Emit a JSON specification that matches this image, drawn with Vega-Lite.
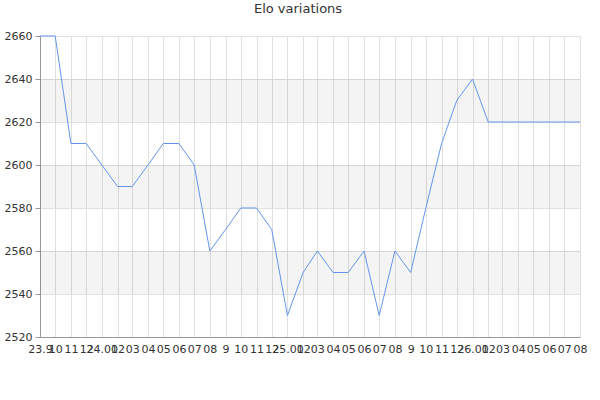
{
  "$schema": "https://vega.github.io/schema/vega-lite/v6.json",
  "width": 540,
  "height": 301,
  "autosize": {"type": "none"},
  "padding": {"left": 40, "top": 36, "right": 20, "bottom": 63},
  "background": "white",
  "title": {
    "text": "Elo variations",
    "font": "DejaVu Sans",
    "fontSize": 13,
    "fontWeight": "normal",
    "color": "#333",
    "offset": 14,
    "dx": -12
  },
  "datasets": {
    "elo": [
      {"month": "2023-09-01", "elo": 2660},
      {"month": "2023-10-01", "elo": 2660},
      {"month": "2023-11-01", "elo": 2610},
      {"month": "2023-12-01", "elo": 2610},
      {"month": "2024-01-01", "elo": 2600},
      {"month": "2024-02-01", "elo": 2590},
      {"month": "2024-03-01", "elo": 2590},
      {"month": "2024-04-01", "elo": 2600},
      {"month": "2024-05-01", "elo": 2610},
      {"month": "2024-06-01", "elo": 2610},
      {"month": "2024-07-01", "elo": 2600},
      {"month": "2024-08-01", "elo": 2560},
      {"month": "2024-09-01", "elo": 2570},
      {"month": "2024-10-01", "elo": 2580},
      {"month": "2024-11-01", "elo": 2580},
      {"month": "2024-12-01", "elo": 2570},
      {"month": "2025-01-01", "elo": 2530},
      {"month": "2025-02-01", "elo": 2550},
      {"month": "2025-03-01", "elo": 2560},
      {"month": "2025-04-01", "elo": 2550},
      {"month": "2025-05-01", "elo": 2550},
      {"month": "2025-06-01", "elo": 2560},
      {"month": "2025-07-01", "elo": 2530},
      {"month": "2025-08-01", "elo": 2560},
      {"month": "2025-09-01", "elo": 2550},
      {"month": "2025-10-01", "elo": 2580},
      {"month": "2025-11-01", "elo": 2610},
      {"month": "2025-12-01", "elo": 2630},
      {"month": "2026-01-01", "elo": 2640},
      {"month": "2026-02-01", "elo": 2620},
      {"month": "2026-03-01", "elo": 2620},
      {"month": "2026-04-01", "elo": 2620},
      {"month": "2026-05-01", "elo": 2620},
      {"month": "2026-06-01", "elo": 2620},
      {"month": "2026-07-01", "elo": 2620},
      {"month": "2026-08-01", "elo": 2620}
    ],
    "bands": [
      {"start": "2023-09-01", "end": "2026-08-01", "lo": 2540, "hi": 2560},
      {"start": "2023-09-01", "end": "2026-08-01", "lo": 2580, "hi": 2600},
      {"start": "2023-09-01", "end": "2026-08-01", "lo": 2620, "hi": 2640}
    ]
  },
  "layer": [
    {
      "data": {"name": "bands"},
      "mark": {"type": "rect", "fill": "#000", "fillOpacity": 0.045},
      "encoding": {
        "x": {"field": "start", "type": "temporal"},
        "x2": {"field": "end"},
        "y": {"field": "lo", "type": "quantitative"},
        "y2": {"field": "hi"}
      }
    },
    {
      "data": {"name": "elo"},
      "mark": {"type": "line", "color": "#6495ED", "strokeWidth": 1},
      "encoding": {
        "x": {
          "field": "month",
          "type": "temporal",
          "scale": {"type": "utc", "nice": false},
          "axis": {
            "title": null,
            "tickCount": {"interval": "month", "step": 1},
            "labelOverlap": false,
            "labelFlush": false,
            "labelExpr": "utcmonth(datum.value) == 0 ? utcFormat(datum.value, '%y') + '.01' : (utcyear(datum.value) == 2023 && utcmonth(datum.value) == 8 ? '23.9' : (utcmonth(datum.value) >= 8 ? '' + (utcmonth(datum.value) + 1) : utcFormat(datum.value, '%m')))",
            "ticks": false,
            "labelPadding": 6,
            "labelFont": "DejaVu Sans",
            "labelFontSize": 11,
            "labelColor": "#333",
            "domainColor": "#999",
            "gridColor": "#e0e0e0",
            "grid": true
          }
        },
        "y": {
          "field": "elo",
          "type": "quantitative",
          "scale": {"domain": [2520, 2660], "nice": false, "zero": false},
          "axis": {
            "title": null,
            "values": [2520, 2530, 2540, 2550, 2560, 2570, 2580, 2590, 2600, 2610, 2620, 2630, 2640, 2650, 2660],
            "labelExpr": "datum.value % 20 == 0 ? datum.label : ''",
            "format": "d",
            "tickSize": {"condition": {"test": "datum.value % 20 == 0", "value": 5}, "value": 3},
            "gridOpacity": {"condition": {"test": "datum.value % 20 == 0", "value": 1}, "value": 0},
            "tickColor": "#999",
            "domainColor": "#999",
            "gridColor": "#e0e0e0",
            "labelPadding": 3,
            "labelFont": "DejaVu Sans",
            "labelFontSize": 11,
            "labelColor": "#333",
            "grid": true
          }
        }
      }
    }
  ],
  "config": {"view": {"stroke": null}}
}
